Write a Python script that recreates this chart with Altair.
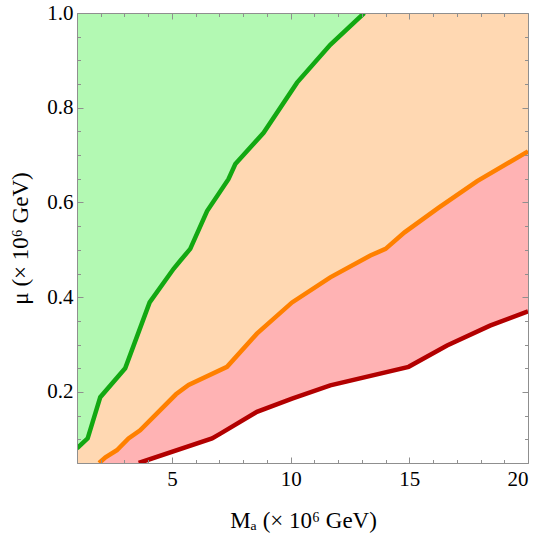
import altair as alt
import pandas as pd

# ---- data ----
green_x = [1.0, 1.45, 1.98, 3.03, 4.06, 5.07, 5.35, 5.77, 6.48, 7.38, 7.67, 8.86, 10.27, 11.67, 13.1]
green_y = [0.081, 0.102, 0.189, 0.25, 0.389, 0.46, 0.477, 0.502, 0.582, 0.649, 0.681, 0.747, 0.853, 0.933, 1.0]

orange_x = [1.93, 2.2, 2.68, 3.17, 3.66, 5.17, 5.7, 7.32, 8.58, 10.06, 11.67, 13.36, 14.0, 14.8, 16.24, 17.86, 20.0]
orange_y = [0.05, 0.062, 0.077, 0.102, 0.119, 0.195, 0.215, 0.253, 0.323, 0.389, 0.442, 0.488, 0.502, 0.537, 0.589, 0.645, 0.708]

red_x = [3.6, 6.69, 7.04, 8.58, 10.06, 11.67, 14.97, 16.59, 18.4, 20.0]
red_y = [0.05, 0.102, 0.112, 0.158, 0.186, 0.214, 0.253, 0.298, 0.34, 0.37]

x_major = [5, 10, 15, 20]
x_minor = [v for v in range(1, 21) if v % 5 != 0]
y_major = [0.2, 0.4, 0.6, 0.8, 1.0]
y_minor = [round(0.05 * k, 2) for k in range(1, 21) if k % 4 != 0]

x_domain = [1, 20]
y_domain = [0.05, 1.0]

x_title = "Mₐ (× 10⁶ GeV)"
y_title = "μ (× 10⁶ GeV)"

# ---- styling ----
FONT = "Liberation Serif"
AXC = "#8f8f8f"
GREEN_FILL = "#b3f9b3"
PEACH_FILL = "#ffd8b2"
PINK_FILL = "#ffb3b4"
GREEN_LINE = "#12a812"
ORANGE_LINE = "#ff8000"
RED_LINE = "#b20000"

W, H = 451, 450

green_df = pd.DataFrame({"x": green_x, "y": green_y})
peach_df = pd.DataFrame({"x": green_x + [20.0], "y": green_y + [1.0]})
orange_df = pd.DataFrame({"x": orange_x, "y": orange_y})
red_df = pd.DataFrame({"x": red_x, "y": red_y})

xs = alt.Scale(domain=x_domain, nice=False, zero=False)
ys = alt.Scale(domain=y_domain, nice=False, zero=False)


def tick_axis(orient, values, size, domain=False):
    # inward-pointing frame ticks (negative tick size passed as an expression)
    return alt.Axis(
        orient=orient, values=values, labels=False, domain=domain,
        domainColor=AXC, domainWidth=1, ticks=True,
        tickSize={"expr": str(-size)}, tickColor=AXC, tickWidth=1,
        title=None, grid=False, zindex=1,
    )


ax_x_labels = alt.Axis(
    orient="bottom", values=x_major, format="d", ticks=False, domain=True,
    domainColor=AXC, domainWidth=1, grid=False,
    labelFont=FONT, labelFontSize=21, labelColor="black", labelPadding=5,
    title=x_title, titleFont=FONT, titleFontSize=23, titleFontWeight="normal",
    titleColor="black", titleX=226, titleY=64, titleBaseline="alphabetic",
    titleAlign="center", zindex=1,
)
ax_y_labels = alt.Axis(
    orient="left", values=y_major, format=".1f", ticks=False, domain=True,
    domainColor=AXC, domainWidth=1, grid=False,
    labelFont=FONT, labelFontSize=21, labelColor="black", labelPadding=4,
    title=y_title, titleFont=FONT, titleFontSize=23, titleFontWeight="normal",
    titleColor="black", titleX=-50, titleY=H / 2, titleAngle=-90,
    titleBaseline="alphabetic", titleAlign="center", zindex=1,
)

peach = alt.Chart(peach_df).mark_area(color=PEACH_FILL, opacity=1, clip=True).encode(
    x=alt.X("x:Q", scale=xs, axis=ax_x_labels),
    y=alt.Y("y:Q", scale=ys, axis=ax_y_labels),
)
pink = alt.Chart(orange_df).mark_area(color=PINK_FILL, opacity=1, clip=True).encode(
    x=alt.X("x:Q", scale=xs, axis=tick_axis("bottom", x_major, 6)),
    y=alt.Y("y:Q", scale=ys, axis=tick_axis("left", y_major, 6)),
)
white = alt.Chart(red_df).mark_area(color="white", opacity=1, clip=True).encode(
    x=alt.X("x:Q", scale=xs, axis=tick_axis("bottom", x_minor, 3.5)),
    y=alt.Y("y:Q", scale=ys, axis=tick_axis("left", y_minor, 3.5)),
)
gline = alt.Chart(green_df).mark_line(color=GREEN_LINE, strokeWidth=4.5, clip=True).encode(
    x=alt.X("x:Q", scale=xs, axis=tick_axis("top", x_major, 6, domain=True)),
    y=alt.Y("y:Q", scale=ys, axis=tick_axis("right", y_major, 6, domain=True)),
)
oline = alt.Chart(orange_df).mark_line(color=ORANGE_LINE, strokeWidth=4.5, clip=True).encode(
    x=alt.X("x:Q", scale=xs, axis=tick_axis("top", x_minor, 3.5)),
    y=alt.Y("y:Q", scale=ys, axis=tick_axis("right", y_minor, 3.5)),
)
rline = alt.Chart(red_df).mark_line(color=RED_LINE, strokeWidth=4.5, clip=True).encode(
    x=alt.X("x:Q", scale=xs, axis=None),
    y=alt.Y("y:Q", scale=ys, axis=None),
)

chart = (
    alt.layer(peach, pink, white, gline, oline, rline)
    .resolve_axis(x="independent", y="independent")
    .properties(
        width=W, height=H,
        autosize=alt.AutoSizeParams(type="none"),
        padding={"left": 77, "top": 13, "right": 14, "bottom": 71},
        background="white",
    )
    .configure_view(fill=GREEN_FILL, stroke=None)
)

chart.save("out.html", embed_options={"renderer": "svg", "actions": False})
